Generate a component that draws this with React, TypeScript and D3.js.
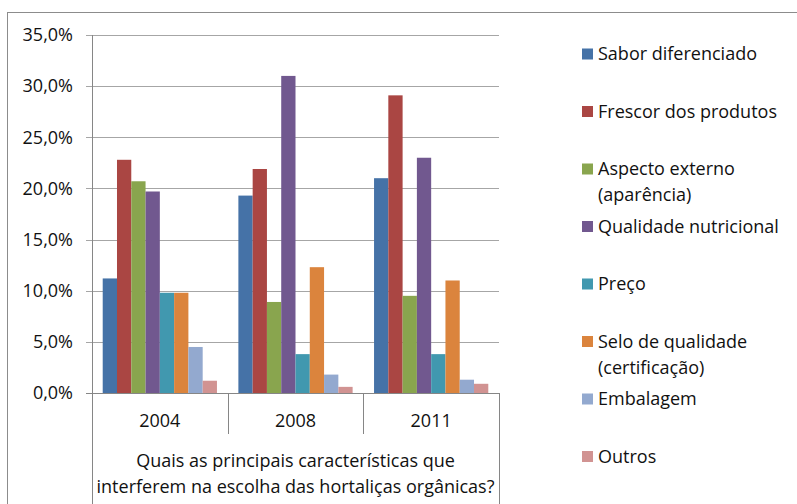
import React from "react";
import * as d3 from "d3";

const categories = ["2004", "2008", "2011"];
const seriesNames = [
  "Sabor diferenciado",
  "Frescor dos produtos",
  "Aspecto externo (aparência)",
  "Qualidade nutricional",
  "Preço",
  "Selo de qualidade (certificação)",
  "Embalagem",
  "Outros",
];
const legendLines = [
  ["Sabor diferenciado"],
  ["Frescor dos produtos"],
  ["Aspecto externo", "(aparência)"],
  ["Qualidade nutricional"],
  ["Preço"],
  ["Selo de qualidade", "(certificação)"],
  ["Embalagem"],
  ["Outros"],
];
const colors = ["#4572A7", "#AA4643", "#89A54E", "#71588F", "#4198AF", "#DB843D", "#93A9CF", "#D19392"];
// values per series, per category (2004, 2008, 2011)
const sabor = [11.2, 19.3, 21.0];
const frescor = [22.8, 21.9, 29.1];
const aspecto = [20.7, 8.9, 9.5];
const qualidade = [19.7, 31.0, 23.0];
const preco = [9.8, 3.8, 3.8];
const selo = [9.8, 12.3, 11.0];
const embalagem = [4.5, 1.8, 1.3];
const outros = [1.2, 0.6, 0.9];
const seriesValues = [sabor, frescor, aspecto, qualidade, preco, selo, embalagem, outros];
const yTicks = [0, 5, 10, 15, 20, 25, 30, 35];
const axisTitle = ["Quais as principais características que", "interferem na escolha das hortaliças orgânicas?"];

const FONT = "'Open Sans', sans-serif";
const FS = 18;

export default function App() {
  const left = 92, right = 499, top = 35, bottom = 393;
  const x0 = d3.scaleBand<string>().domain(categories).range([left, right]).paddingInner(0).paddingOuter(0);
  const bw = x0.bandwidth();
  const barW = bw / 9.5;
  const groupOffset = bw * 0.75 / 9.5;
  const y = d3.scaleLinear().domain([0, 35]).range([bottom, top]);
  const fmt = (v: number) => v.toFixed(1).replace(".", ",") + "%";

  return (
    <svg width={797} height={504} style={{ position: "absolute", left: 0, top: 0, background: "#fff" }} fontFamily={FONT}>
      <rect x={7.5} y={12.5} width={820} height={520} fill="#fff" stroke="#8c8c8c" strokeWidth={1} />
      {yTicks.map((t) => (
        <g key={t}>
          <line x1={left - 6} x2={right} y1={Math.round(y(t)) + 0.5} y2={Math.round(y(t)) + 0.5} stroke={t === 0 ? "#868686" : "#a6a6a6"} strokeWidth={1} />
          <text x={73} y={y(t)} dy="0.35em" textAnchor="end" fontSize={FS} fill="#111">{fmt(t)}</text>
        </g>
      ))}
      <line x1={left + 0.5} x2={left + 0.5} y1={top} y2={504} stroke="#868686" />
      <line x1={right + 0.5} x2={right + 0.5} y1={bottom} y2={504} stroke="#868686" />
      {categories.slice(1).map((c) => (
        <line key={c} x1={Math.round(x0(c)!) + 0.5} x2={Math.round(x0(c)!) + 0.5} y1={bottom} y2={434} stroke="#868686" />
      ))}
      {categories.map((c, ci) => (
        <g key={c}>
          {seriesValues.map((vals, si) => (
            <rect
              key={si}
              x={x0(c)! + groupOffset + si * barW}
              y={y(vals[ci])}
              width={barW}
              height={bottom - y(vals[ci])}
              fill={colors[si]}
            />
          ))}
          <text x={x0(c)! + bw / 2} y={421} dy="0.35em" textAnchor="middle" fontSize={FS} fill="#111">{c}</text>
        </g>
      ))}
      {axisTitle.map((l, i) => (
        <text key={i} x={(left + right) / 2} y={461 + i * 26} dy="0.35em" textAnchor="middle" fontSize={FS} fill="#111">{l}</text>
      ))}
      {legendLines.map((lines, i) => {
        const cy = 54 + i * 57.5;
        return (
          <g key={i}>
            <rect x={582} y={cy - 5.5} width={11} height={11} fill={colors[i]} />
            {lines.map((l, j) => (
              <text key={j} x={598} y={cy + j * 26} dy="0.35em" fontSize={FS} fill="#111">{l}</text>
            ))}
          </g>
        );
      })}
    </svg>
  );
}
